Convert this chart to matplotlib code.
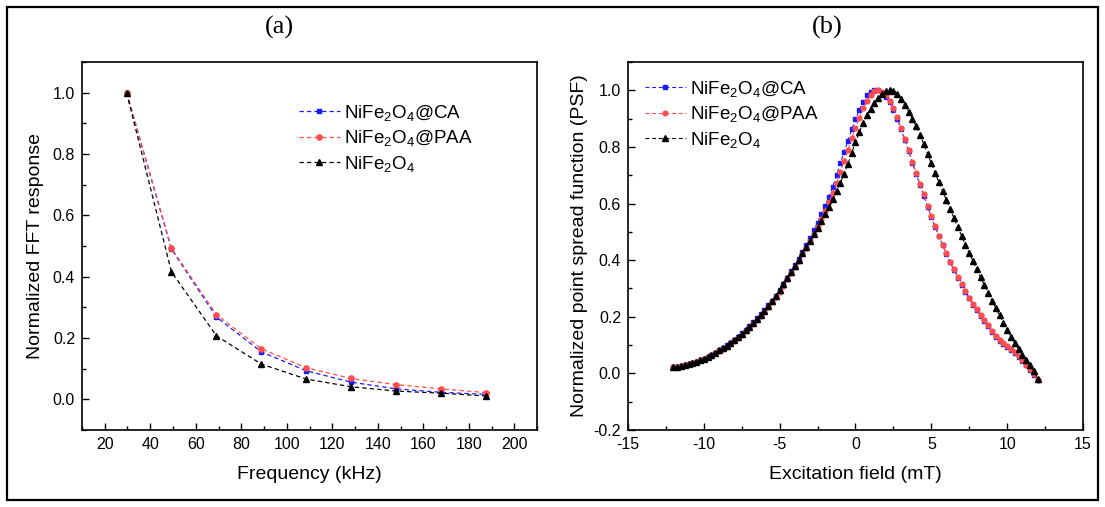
import numpy as np
import matplotlib.pyplot as plt
from matplotlib.patches import Rectangle
from matplotlib.ticker import MultipleLocator

plt.rcParams['font.family'] = ['Liberation Sans', 'DejaVu Sans']
plt.rcParams['mathtext.fontset'] = 'custom'
plt.rcParams['mathtext.rm'] = 'Liberation Sans'
plt.rcParams['mathtext.it'] = 'Liberation Sans:italic'
plt.rcParams['axes.unicode_minus'] = False

# ---- (a) harmonic response vs frequency ----
freq_khz = [29.6, 49.3, 69.1, 88.8, 108.6, 128.3, 148.1, 167.8, 187.5]
fft_ca = [1.0, 0.490, 0.268, 0.155, 0.093, 0.056, 0.034, 0.023, 0.016]
fft_paa = [1.0, 0.493, 0.276, 0.165, 0.103, 0.068, 0.048, 0.034, 0.022]
fft_bare = [1.0, 0.416, 0.207, 0.115, 0.066, 0.041, 0.027, 0.020, 0.011]

# ---- (b) point spread function vs excitation field ----
field_mT = [
    -12.0, -11.75, -11.5, -11.25, -11.0, -10.75, -10.5, -10.25, -10.0, -9.75,
    -9.5, -9.25, -9.0, -8.75, -8.5, -8.25, -8.0, -7.75, -7.5, -7.25,
    -7.0, -6.75, -6.5, -6.25, -6.0, -5.75, -5.5, -5.25, -5.0, -4.75,
    -4.5, -4.25, -4.0, -3.75, -3.5, -3.25, -3.0, -2.75, -2.5, -2.25,
    -2.0, -1.75, -1.5, -1.25, -1.0, -0.75, -0.5, -0.25, 0.0, 0.25,
    0.5, 0.75, 1.0, 1.25, 1.5, 1.75, 2.0, 2.25, 2.5, 2.75,
    3.0, 3.25, 3.5, 3.75, 4.0, 4.25, 4.5, 4.75, 5.0, 5.25,
    5.5, 5.75, 6.0, 6.25, 6.5, 6.75, 7.0, 7.25, 7.5, 7.75,
    8.0, 8.25, 8.5, 8.75, 9.0, 9.25, 9.5, 9.75, 10.0, 10.25,
    10.5, 10.75, 11.0, 11.25, 11.5, 11.75, 12.0,
]
psf_ca = [
    0.021, 0.024, 0.027, 0.030, 0.033, 0.037, 0.041, 0.046, 0.052, 0.058,
    0.065, 0.073, 0.081, 0.089, 0.099, 0.108, 0.119, 0.130, 0.142, 0.154,
    0.167, 0.180, 0.194, 0.209, 0.224, 0.240, 0.257, 0.275, 0.295, 0.316,
    0.338, 0.360, 0.382, 0.404, 0.428, 0.452, 0.478, 0.505, 0.533, 0.562,
    0.592, 0.624, 0.660, 0.700, 0.742, 0.782, 0.822, 0.862, 0.898, 0.930,
    0.960, 0.982, 0.995, 1.000, 1.000, 0.990, 0.978, 0.958, 0.932, 0.900,
    0.864, 0.824, 0.786, 0.744, 0.704, 0.666, 0.628, 0.589, 0.552, 0.517,
    0.484, 0.452, 0.421, 0.392, 0.364, 0.337, 0.311, 0.287, 0.265, 0.243,
    0.223, 0.204, 0.185, 0.166, 0.147, 0.129, 0.115, 0.104, 0.094, 0.083,
    0.071, 0.058, 0.044, 0.029, 0.012, -0.004, -0.023,
]
psf_paa = [
    0.021, 0.024, 0.027, 0.030, 0.033, 0.037, 0.041, 0.046, 0.051, 0.057,
    0.063, 0.071, 0.078, 0.086, 0.094, 0.103, 0.113, 0.124, 0.136, 0.148,
    0.161, 0.174, 0.188, 0.203, 0.218, 0.234, 0.251, 0.269, 0.289, 0.310,
    0.332, 0.354, 0.376, 0.398, 0.420, 0.443, 0.467, 0.492, 0.518, 0.546,
    0.575, 0.605, 0.637, 0.672, 0.710, 0.750, 0.790, 0.830, 0.868, 0.903,
    0.936, 0.964, 0.984, 0.996, 1.000, 0.995, 0.982, 0.962, 0.936, 0.905,
    0.868, 0.828, 0.790, 0.748, 0.708, 0.670, 0.632, 0.592, 0.555, 0.520,
    0.487, 0.455, 0.424, 0.395, 0.367, 0.340, 0.314, 0.290, 0.268, 0.246,
    0.226, 0.207, 0.188, 0.170, 0.150, 0.132, 0.118, 0.107, 0.097, 0.086,
    0.074, 0.061, 0.047, 0.031, 0.014, -0.002, -0.022,
]
psf_bare = [
    0.021, 0.024, 0.027, 0.030, 0.033, 0.037, 0.041, 0.046, 0.052, 0.058,
    0.065, 0.073, 0.081, 0.089, 0.098, 0.107, 0.117, 0.128, 0.140, 0.152,
    0.165, 0.178, 0.192, 0.207, 0.222, 0.238, 0.255, 0.273, 0.293, 0.314,
    0.336, 0.358, 0.380, 0.402, 0.424, 0.446, 0.469, 0.492, 0.515, 0.539,
    0.563, 0.588, 0.615, 0.643, 0.673, 0.705, 0.740, 0.778, 0.818, 0.852,
    0.885, 0.912, 0.935, 0.955, 0.972, 0.986, 0.996, 1.000, 0.997, 0.988,
    0.970, 0.948, 0.925, 0.900, 0.873, 0.843, 0.810, 0.776, 0.742, 0.708,
    0.675, 0.643, 0.612, 0.580, 0.548, 0.516, 0.485, 0.455, 0.425, 0.396,
    0.367, 0.339, 0.311, 0.284, 0.257, 0.231, 0.205, 0.179, 0.154, 0.130,
    0.107, 0.086, 0.066, 0.047, 0.028, 0.008, -0.020,
]

labels = ['NiFe$_2$O$_4$@CA', 'NiFe$_2$O$_4$@PAA', 'NiFe$_2$O$_4$']
c_blue = '#1a1aff'
c_red = '#ff4d4d'
c_black = '#000000'
dash = (3.5, 2.5)

fig = plt.figure(figsize=(11.05, 5.07), dpi=100)
ax1 = fig.add_axes([0.0742, 0.1519, 0.4118, 0.7258])
ax2 = fig.add_axes([0.5683, 0.1519, 0.4118, 0.7258])

# outer frame around both panels
fig.patches.append(Rectangle((0.0063, 0.0138), 0.9874, 0.9724, transform=fig.transFigure,
                             fill=False, edgecolor='black', linewidth=1.6))

ax1.plot(freq_khz, fft_ca, color=c_blue, ls='--', dashes=dash, lw=0.9,
         marker='s', ms=3.5, label=labels[0])
ax1.plot(freq_khz, fft_paa, color=c_red, ls='--', dashes=dash, lw=0.9,
         marker='o', ms=3.8, label=labels[1])
ax1.plot(freq_khz, fft_bare, color=c_black, ls='--', dashes=dash, lw=0.9,
         marker='^', ms=4.5, label=labels[2])
ax1.set_xlim(10, 210)
ax1.set_ylim(-0.1, 1.1)
ax1.xaxis.set_major_locator(MultipleLocator(20))
ax1.xaxis.set_minor_locator(MultipleLocator(10))
ax1.set_yticks([0.0, 0.2, 0.4, 0.6, 0.8, 1.0])
ax1.yaxis.set_minor_locator(MultipleLocator(0.1))
ax1.set_xlabel('Frequency (kHz)', fontsize=14, labelpad=10)
ax1.set_ylabel('Normalized FFT response', fontsize=14, labelpad=6)
ax1.legend(loc='upper left', bbox_to_anchor=(0.46, 0.91), frameon=False, fontsize=13.5,
           handlelength=2.2, handletextpad=0.2, labelspacing=0.3, numpoints=1,
           borderaxespad=0)

ax2.plot(field_mT, psf_ca, color=c_blue, ls='--', dashes=dash, lw=0.8,
         marker='s', ms=3.2, label=labels[0])
ax2.plot(field_mT, psf_paa, color=c_red, ls='--', dashes=dash, lw=0.8,
         marker='o', ms=3.4, label=labels[1])
ax2.plot(field_mT, psf_bare, color=c_black, ls='--', dashes=dash, lw=0.8,
         marker='^', ms=4.2, label=labels[2])
ax2.set_xlim(-15, 15)
ax2.set_ylim(-0.2, 1.1)
ax2.xaxis.set_major_locator(MultipleLocator(5))
ax2.xaxis.set_minor_locator(MultipleLocator(2.5))
ax2.set_yticks([-0.2, 0.0, 0.2, 0.4, 0.6, 0.8, 1.0])
ax2.yaxis.set_minor_locator(MultipleLocator(0.1))
ax2.set_xlabel('Excitation field (mT)', fontsize=14, labelpad=10)
ax2.set_ylabel('Normalized point spread function (PSF)', fontsize=14, labelpad=4)
ax2.legend(loc='upper left', bbox_to_anchor=(0.02, 0.975), frameon=False, fontsize=13.5,
           handlelength=2.2, handletextpad=0.2, labelspacing=0.3, numpoints=1,
           borderaxespad=0)

for ax in (ax1, ax2):
    for s in ax.spines.values():
        s.set_linewidth(1.2)
    ax.tick_params(which='both', direction='in', top=False, right=False,
                   labelsize=11.5, width=1.0)
    ax.tick_params(which='major', length=5, pad=5)
    ax.tick_params(which='minor', length=3)

fig.text(0.2525, 0.945, '(a)', ha='center', va='center', fontsize=19,
         family='Liberation Serif')
fig.text(0.749, 0.945, '(b)', ha='center', va='center', fontsize=19,
         family='Liberation Serif')

fig.savefig('out.png', dpi=100)
